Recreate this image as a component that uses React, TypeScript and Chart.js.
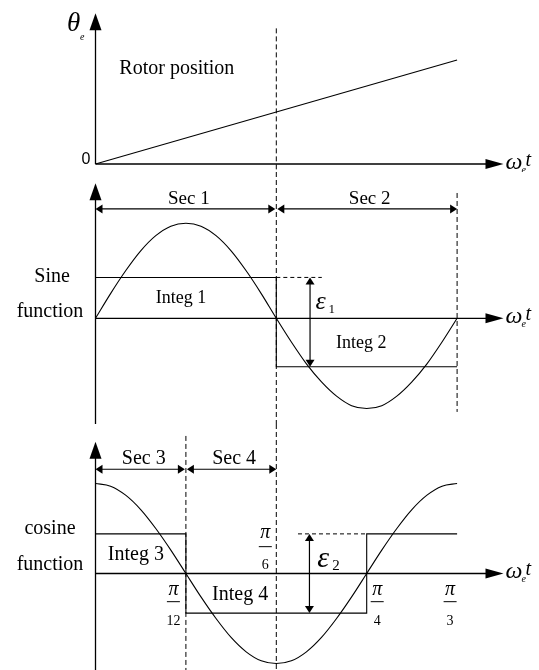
import { useEffect, useRef } from "react";
import { Chart, registerables } from "chart.js";

Chart.register(...registerables);

// Electrical angle ω_e·t in degrees (60° = π/3), sampled every 2.5°
const angleDeg = [
  0, 2.5, 5, 7.5, 10, 12.5, 15, 17.5, 20, 22.5, 25, 27.5, 30,
  32.5, 35, 37.5, 40, 42.5, 45, 47.5, 50, 52.5, 55, 57.5, 60,
];
const sineValues = [
  0, 0.26, 0.5, 0.71, 0.87, 0.97, 1, 0.97, 0.87, 0.71, 0.5, 0.26, 0,
  -0.25, -0.48, -0.67, -0.82, -0.92, -0.95, -0.92, -0.82, -0.67, -0.48, -0.25, 0,
];
const cosineValues = [
  1, 0.97, 0.87, 0.71, 0.5, 0.26, 0, -0.26, -0.5, -0.71, -0.87, -0.97, -1,
  -0.97, -0.87, -0.71, -0.5, -0.26, 0, 0.26, 0.5, 0.71, 0.87, 0.97, 1,
];

// Rotor position ramp
const rotorAngle = [0, 60];
const rotorPosition = [0, 69];

// Integrator outputs (piecewise constant)
const sineIntegAngle = [0, 30, 30, 60];
const sineIntegValue = [0.43, 0.43, -0.51, -0.51];
const cosineIntegAngle = [0, 15, 15, 45, 45, 60];
const cosineIntegValue = [0.44, 0.44, -0.44, -0.44, 0.44, 0.44];

// Integration sections
const sineSections = ["Sec 1", "Sec 2"];
const sineSectionBounds = [0, 30, 60];
const cosineSections = ["Sec 3", "Sec 4"];
const cosineSectionBounds = [0, 15, 30];

// Angle tick labels (π / n)
const tickAngles = [15, 30, 45, 60];
const tickDenominators = ["12", "6", "4", "3"];

const SERIF = '"Liberation Serif", "Times New Roman", serif';
const SANS = '"Liberation Sans", Arial, sans-serif';
const INK = "#000000";
const X_MAX = 67.7;
const PAD_LEFT = 95.5;
const PAD_RIGHT = 539 - 503.5;

type Pt = { x: number; y: number };
const toXY = (xs: number[], ys: number[]): Pt[] => xs.map((x, i) => ({ x, y: ys[i] }));

function strokeLine(ctx: CanvasRenderingContext2D, x1: number, y1: number, x2: number, y2: number, width = 1, dash: number[] = []) {
  ctx.save();
  ctx.strokeStyle = INK;
  ctx.lineWidth = width;
  ctx.setLineDash(dash);
  ctx.beginPath();
  ctx.moveTo(x1, y1);
  ctx.lineTo(x2, y2);
  ctx.stroke();
  ctx.restore();
}

function fillHead(ctx: CanvasRenderingContext2D, tx: number, ty: number, dx: number, dy: number, len: number, half: number) {
  const bx = tx - dx * len;
  const by = ty - dy * len;
  ctx.save();
  ctx.fillStyle = INK;
  ctx.beginPath();
  ctx.moveTo(tx, ty);
  ctx.lineTo(bx - dy * half, by + dx * half);
  ctx.lineTo(bx + dy * half, by - dx * half);
  ctx.closePath();
  ctx.fill();
  ctx.restore();
}

function label(
  ctx: CanvasRenderingContext2D,
  s: string,
  x: number,
  y: number,
  font: string,
  align: CanvasTextAlign = "center",
  baseline: CanvasTextBaseline = "middle"
) {
  ctx.save();
  ctx.font = font;
  ctx.fillStyle = INK;
  ctx.textAlign = align;
  ctx.textBaseline = baseline;
  ctx.fillText(s, x, y);
  ctx.restore();
}

const xp = (c: Chart, a: number) => c.scales.x.getPixelForValue(a);
const yp = (c: Chart, v: number) => c.scales.y.getPixelForValue(v);

function drawAxes(chart: Chart, yAxisBottom: number) {
  const { ctx, chartArea } = chart;
  const x0 = xp(chart, 0);
  const y0 = yp(chart, 0);
  const xEnd = xp(chart, X_MAX);
  strokeLine(ctx, x0, yAxisBottom, x0, chartArea.top + 10, 1.3);
  fillHead(ctx, x0, chartArea.top, 0, -1, 17, 6);
  strokeLine(ctx, x0, y0, xEnd - 10, y0, 1.3);
  fillHead(ctx, xEnd, y0, 1, 0, 18, 5);
  label(ctx, "ω", xEnd + 2, y0 + 5, `italic 24px ${SERIF}`, "left", "alphabetic");
  label(ctx, "e", xEnd + 18, y0 + 9, `italic 10px ${SERIF}`, "left", "alphabetic");
  label(ctx, "t", xEnd + 22, y0 + 2, `italic 20px ${SERIF}`, "left", "alphabetic");
}

function dashedVertical(chart: Chart, angle: number, yTop: number, yBottom: number) {
  const x = xp(chart, angle);
  strokeLine(chart.ctx, x, yTop, x, yBottom, 1, [5, 3]);
}

function sectionArrows(chart: Chart, bounds: number[], names: string[], level: number, textLevel: number, font: string) {
  const { ctx } = chart;
  const y = yp(chart, level);
  const n = names.length;
  for (let i = 0; i < n; i++) {
    const l = xp(chart, bounds[i]) + (i > 0 ? 1 : 0);
    const r = xp(chart, bounds[i + 1]) - (i < n - 1 ? 1 : 0);
    strokeLine(ctx, l + 4, y, r - 4, y, 1.2);
    fillHead(ctx, l, y, -1, 0, 7, 4.5);
    fillHead(ctx, r, y, 1, 0, 7, 4.5);
    label(ctx, names[i], xp(chart, (bounds[i] + bounds[i + 1]) / 2) + 3, yp(chart, textLevel), font);
  }
}

function errorArrow(chart: Chart, angle: number, hi: number, lo: number) {
  const { ctx } = chart;
  const x = xp(chart, angle);
  const yt = yp(chart, hi);
  const yb = yp(chart, lo);
  strokeLine(ctx, x, yt + 4, x, yb - 4, 1.2);
  fillHead(ctx, x, yt, 0, -1, 7, 4.5);
  fillHead(ctx, x, yb, 0, 1, 7, 4.5);
}

const rotorOverlay = {
  id: "rotorOverlay",
  afterDatasetsDraw(chart: Chart) {
    const { ctx, chartArea } = chart;
    drawAxes(chart, chartArea.bottom);
    dashedVertical(chart, 30, yp(chart, 90), chart.height);
    const x0 = xp(chart, 0);
    const y0 = yp(chart, 0);
    label(ctx, "θ", x0 - 28.5, chartArea.top + 11, `italic 27px ${SERIF}`, "left");
    label(ctx, "e", x0 - 15.5, chartArea.top + 27, `italic 10px ${SERIF}`, "left", "alphabetic");
    label(ctx, "0", x0 - 5, y0 - 4, `16px ${SANS}`, "right");
    label(ctx, "Rotor position", xp(chart, 13.5), yp(chart, 63.5), `20px ${SERIF}`);
  },
};

const sineOverlay = {
  id: "sineOverlay",
  afterDatasetsDraw(chart: Chart) {
    const { ctx } = chart;
    drawAxes(chart, chart.height);
    dashedVertical(chart, 30, 0, chart.height);
    dashedVertical(chart, 60, yp(chart, 1.319), yp(chart, -0.986));
    sectionArrows(chart, sineSectionBounds, sineSections, 1.151, 1.253, `19px ${SERIF}`);
    const hi = sineIntegValue[0];
    const lo = sineIntegValue[sineIntegValue.length - 1];
    strokeLine(ctx, xp(chart, 30), yp(chart, hi), xp(chart, 37.55), yp(chart, hi), 1, [4, 3]);
    errorArrow(chart, 35.6, hi, lo);
    label(ctx, "ε", xp(chart, 36.5), yp(chart, 0.17), `italic 26px ${SERIF}`, "left");
    label(ctx, "1", xp(chart, 36.5) + 13, yp(chart, 0.17) + 7, `13px ${SERIF}`, "left");
    label(ctx, "Sine", xp(chart, -7.2), yp(chart, 0.432), `20px ${SERIF}`);
    label(ctx, "function", xp(chart, -7.55), yp(chart, 0.069), `20px ${SERIF}`);
    label(ctx, "Integ 1", xp(chart, 14.2), yp(chart, 0.21), `18px ${SERIF}`);
    label(ctx, "Integ 2", xp(chart, 44.1), yp(chart, -0.263), `18px ${SERIF}`);
  },
};

const cosineOverlay = {
  id: "cosineOverlay",
  afterDatasetsDraw(chart: Chart) {
    const { ctx } = chart;
    drawAxes(chart, chart.height);
    dashedVertical(chart, 30, 0, chart.height);
    dashedVertical(chart, 15, yp(chart, 1.528), chart.height);
    sectionArrows(chart, cosineSectionBounds, cosineSections, 1.158, 1.28, `20px ${SERIF}`);
    const hi = cosineIntegValue[0];
    const lo = cosineIntegValue[2];
    strokeLine(ctx, xp(chart, 33.6), yp(chart, hi), xp(chart, 45), yp(chart, hi), 1, [4, 3]);
    errorArrow(chart, 35.5, hi, lo);
    label(ctx, "ε", xp(chart, 36.8), yp(chart, 0.161), `italic 30px ${SERIF}`, "left");
    label(ctx, "2", xp(chart, 36.8) + 15, yp(chart, 0.161) + 7, `15px ${SERIF}`, "left");
    label(ctx, "cosine", xp(chart, -7.55), yp(chart, 0.502), `20px ${SERIF}`);
    label(ctx, "function", xp(chart, -7.55), yp(chart, 0.094), `20px ${SERIF}`);
    label(ctx, "Integ 3", xp(chart, 6.7), yp(chart, 0.206), `20px ${SERIF}`);
    label(ctx, "Integ 4", xp(chart, 24.0), yp(chart, -0.239), `20px ${SERIF}`);

    // π/n labels: π/6 sits above the axis, the others below
    const shift = [-12.5, -11, 10.5, -7];
    tickAngles.forEach((a, i) => {
      const x = xp(chart, a) + shift[i];
      const rows = i === 1 ? [0.456, 0.298, 0.094] : [-0.183, -0.313, -0.528];
      label(ctx, "π", x, yp(chart, rows[0]), `italic 20px ${SERIF}`);
      strokeLine(ctx, x - 6.5, yp(chart, rows[1]), x + 6.5, yp(chart, rows[1]), 1);
      label(ctx, tickDenominators[i], x, yp(chart, rows[2]), `14px ${SERIF}`);
    });
  },
};

function baseOptions(yMin: number, yMax: number, padTop: number, padBottom: number) {
  return {
    animation: false as const,
    responsive: false,
    devicePixelRatio: 1,
    events: [] as never[],
    layout: { padding: { left: PAD_LEFT, right: PAD_RIGHT, top: padTop, bottom: padBottom } },
    scales: {
      x: { type: "linear" as const, min: 0, max: X_MAX, display: false },
      y: { type: "linear" as const, min: yMin, max: yMax, display: false },
    },
    plugins: { legend: { display: false }, tooltip: { enabled: false } },
  };
}

const lineStyle = { borderColor: INK, borderWidth: 1.1, pointRadius: 0, fill: false, clip: false as const };

export default function App() {
  const rotorRef = useRef<HTMLCanvasElement>(null);
  const sineRef = useRef<HTMLCanvasElement>(null);
  const cosRef = useRef<HTMLCanvasElement>(null);

  useEffect(() => {
    const charts: Chart[] = [];
    if (rotorRef.current) {
      charts.push(
        new Chart(rotorRef.current, {
          type: "line",
          data: { datasets: [{ ...lineStyle, data: toXY(rotorAngle, rotorPosition), tension: 0 }] },
          options: baseOptions(0, 100, 13.3, 8),
          plugins: [rotorOverlay],
        } as any)
      );
    }
    if (sineRef.current) {
      charts.push(
        new Chart(sineRef.current, {
          type: "line",
          data: {
            datasets: [
              { ...lineStyle, data: toXY(angleDeg, sineValues), cubicInterpolationMode: "monotone" },
              { ...lineStyle, data: toXY(sineIntegAngle, sineIntegValue), tension: 0 },
            ],
          },
          options: baseOptions(-1.113, 1.421, 11.3, 0),
          plugins: [sineOverlay],
        } as any)
      );
    }
    if (cosRef.current) {
      charts.push(
        new Chart(cosRef.current, {
          type: "line",
          data: {
            datasets: [
              { ...lineStyle, data: toXY(angleDeg, cosineValues), cubicInterpolationMode: "monotone" },
              { ...lineStyle, data: toXY(cosineIntegAngle, cosineIntegValue), tension: 0 },
            ],
          },
          options: baseOptions(-1.072, 1.464, 17.7, 0),
          plugins: [cosineOverlay],
        } as any)
      );
    }
    return () => charts.forEach((c) => c.destroy());
  }, []);

  return (
    <div style={{ position: "absolute", left: 0, top: 0, width: 539, height: 670, background: "#ffffff" }}>
      <canvas ref={rotorRef} width={539} height={172} style={{ position: "absolute", left: 0, top: 0 }} />
      <canvas ref={sineRef} width={539} height={252} style={{ position: "absolute", left: 0, top: 172 }} />
      <canvas ref={cosRef} width={539} height={246} style={{ position: "absolute", left: 0, top: 424 }} />
    </div>
  );
}
